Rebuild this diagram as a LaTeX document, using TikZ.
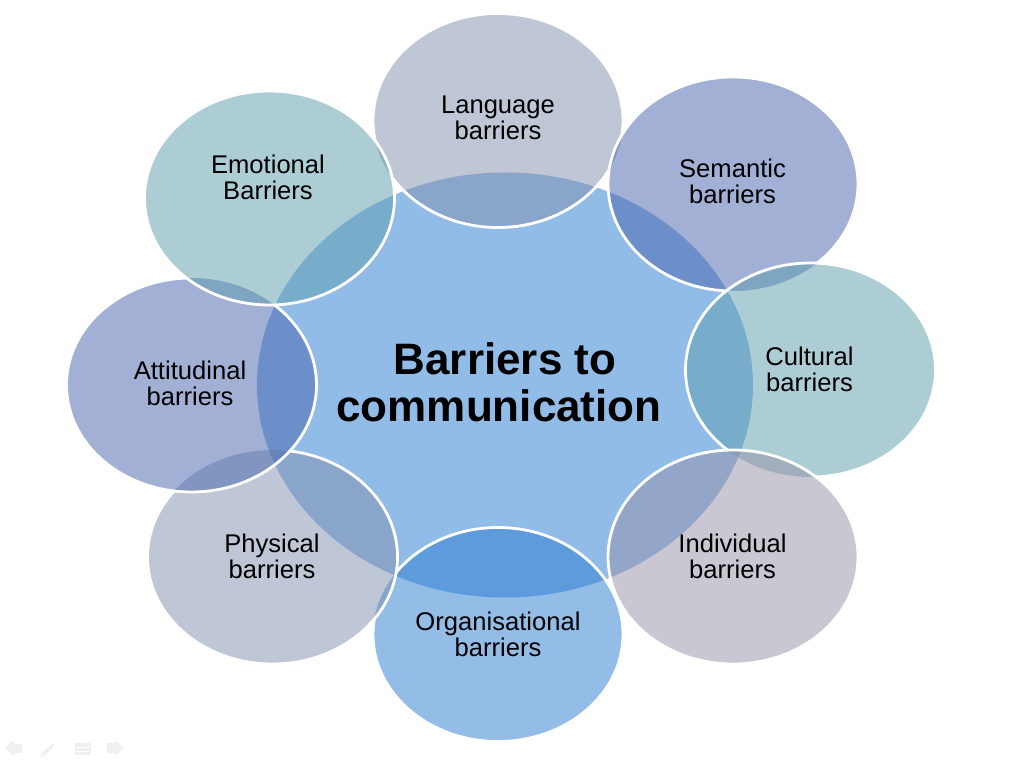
\documentclass[tikz,border=0pt]{standalone}
\usepackage{fontspec}
\setmainfont{Liberation Sans}
\definecolor{hubfill}{RGB}{146,188,232}
\definecolor{langfill}{RGB}{129,143,173}
\definecolor{semfill}{RGB}{71,99,173}
\definecolor{cultfill}{RGB}{93,157,173}
\definecolor{indfill}{RGB}{151,145,167}
\definecolor{orgfill}{RGB}{41,123,209}
\definecolor{navicon}{RGB}{240,240,240}
\tikzset{
  x=1pt,y=-1pt,
  petal/.style={fill opacity=0.5},
  rim/.style={draw=white,line width=2.8pt},
  petallabel/.style={align=center,font=\fontsize{25.6}{26}\selectfont,text=black,inner sep=0pt},
  hublabel/.style={align=center,font=\fontsize{44}{47}\selectfont\bfseries,text=black,inner sep=0pt},
  navshape/.style={fill=navicon,draw=none}
}
\newcommand{\petalshape}[2]{(#1,#2) ellipse [x radius=125pt,y radius=107pt]}
\begin{document}
\begin{tikzpicture}
\useasboundingbox (0,0) rectangle (1010,767);
\fill[white] (0,0) rectangle (1010,767);
% hub
\fill[hubfill] (505,385) ellipse [x radius=248pt,y radius=212.5pt];
% petals: fill colour, centre
\foreach \fc/\cx/\cy in {
  langfill/498/120.5,
  semfill/733/184,
  cultfill/810.5/370,
  indfill/733/557,
  orgfill/498/634.5,
  langfill/272.5/557,
  semfill/191.5/385,
  cultfill/269.5/198}{
  \fill[\fc,petal] \petalshape{\cx}{\cy};
}
% white rims, each hidden where the next petal lies over it
\foreach \cx/\cy/\nx/\ny/\mx/\my in {
  498/120.5/733/184/269.5/198,
  733/184/810.5/370/-3000/0,
  810.5/370/733/557/-3000/0,
  733/557/498/634.5/-3000/0,
  498/634.5/272.5/557/-3000/0,
  272.5/557/191.5/385/-3000/0,
  191.5/385/269.5/198/-3000/0,
  269.5/198/-3000/0/-3000/0}{
  \begin{scope}[even odd rule]
    \clip (-20,-20) rectangle (1030,787) \petalshape{\nx}{\ny};
    \begin{scope}[even odd rule]
      \clip (-20,-20) rectangle (1030,787) \petalshape{\mx}{\my};
      \draw[rim] \petalshape{\cx}{\cy};
    \end{scope}
  \end{scope}
}
% labels
\node[hublabel] (hub) at (499,382) {\hspace*{12pt}Barriers to\\communication};
\node[petallabel] (language) at (498,117.5) {Language\\barriers};
\node[petallabel] (semantic) at (732.5,181) {Semantic\\barriers};
\node[petallabel] (cultural) at (809.5,369) {Cultural\\barriers};
\node[petallabel] (individual) at (732.5,556) {Individual\\barriers};
\node[petallabel] (organisational) at (498,634) {Organisational\\barriers};
\node[petallabel] (physical) at (272,556) {Physical\\barriers};
\node[petallabel] (attitudinal) at (190,383) {Attitudinal\\barriers};
\node[petallabel] (emotional) at (268,177) {Emotional\\Barriers};
% slide-show controls
\fill[navshape] (5,748) -- (14,740) -- (14,744) -- (22,744) -- (22,753) -- (14,753) -- (14,756) -- cycle;
\fill[navshape] (40,757) -- (43,752) -- (54,743) -- (55,745) -- (45,755) -- cycle;
\fill[navshape] (75,743) rectangle (91,755);
\draw[white,line width=0.8pt] (76,747) -- (90,747) (76,751) -- (90,751);
\fill[navshape] (107,743) -- (115,743) -- (115,740) -- (124,748) -- (115,756) -- (115,753) -- (107,753) -- cycle;
\end{tikzpicture}
\end{document}
